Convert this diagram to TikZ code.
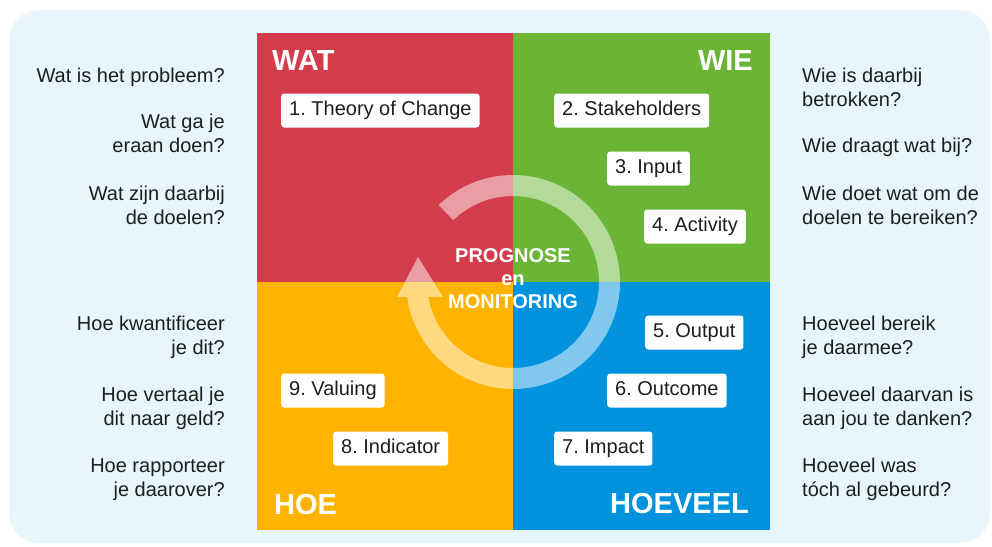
\documentclass[tikz,border=0pt]{standalone}
\usepackage{fontspec}
\setmainfont{Liberation Sans}
\frenchspacing

\definecolor{watred}{RGB}{211,60,74}
\definecolor{wiegreen}{RGB}{106,181,54}
\definecolor{hoeyellow}{RGB}{253,179,0}
\definecolor{hoeveelblue}{RGB}{0,146,221}
\definecolor{panelbg}{RGB}{232,246,252}
\definecolor{qtext}{RGB}{30,30,30}

\begin{document}
\begin{tikzpicture}[x=1pt,y=-1pt,
    corner/.style={font=\fontsize{29}{34}\selectfont\bfseries, text=white, inner sep=0pt},
    stepbox/.style={fill=white, rounded corners=3pt, font=\fontsize{20}{24}\selectfont, text=qtext,
      inner xsep=8pt, minimum height=34pt, text height=14.5pt, text depth=4.2pt, anchor=west},
    question/.style={font=\fontsize{20}{24}\selectfont, text=qtext, inner sep=0pt},
    lq/.style={question, align=right, anchor=base east},
    rq/.style={question, align=left, anchor=base west}]
  \useasboundingbox (0,0) rectangle (992,546);
  \fill[panelbg, rounded corners=30pt] (9,10) rectangle (990,543);

  \fill[watred] (257,33) rectangle (513,282);
  \fill[wiegreen] (513,33) rectangle (770,282);
  \fill[hoeyellow] (257,282) rectangle (513,530);
  \fill[hoeveelblue] (513,282) rectangle (770,530);

  \coordinate (c) at (513,282);
  \fill[white, fill opacity=0.5] ([shift={(226:107)}]c) arc[start angle=226, end angle=532, radius=107]
    -- (397,297) -- (418,257) -- (443,297)
    -- ([shift={(170:86)}]c) arc[start angle=530, end angle=226, radius=86] -- cycle;
  \node[font=\fontsize{20}{23}\selectfont\bfseries, text=white, align=center] (prognose) at (513,279)
    {PROGNOSE\\en\\MONITORING};

  \node[corner, anchor=base west] (wat) at (272,70) {WAT};
  \node[corner, anchor=base east] (wie) at (753,70) {WIE};
  \node[corner, anchor=base west] (hoe) at (274,514) {HOE};
  \node[corner, anchor=base east] (hoeveel) at (749,513) {HOEVEEL};

  \node[stepbox] (toc) at (281,110.5) {1. Theory of Change};
  \node[stepbox] (stakeholders) at (554,110.5) {2. Stakeholders};
  \node[stepbox] (input) at (607,168.5) {3. Input};
  \node[stepbox] (activity) at (644,226.5) {4. Activity};
  \node[stepbox] (output) at (645,332.5) {5. Output};
  \node[stepbox] (outcome) at (607,390.5) {6. Outcome};
  \node[stepbox] (impact) at (554,448.5) {7. Impact};
  \node[stepbox] (indicator) at (333,448.5) {8. Indicator};
  \node[stepbox] (valuing) at (281,390.5) {9. Valuing};

  \node[lq] (probleem) at (225,82) {Wat is het probleem?};
  \node[lq] (doen) at (225,152) {Wat ga je\\eraan doen?};
  \node[lq] (doelen) at (225,224) {Wat zijn daarbij\\de doelen?};
  \node[lq] (kwantificeer) at (225,354) {Hoe kwantificeer\\je dit?};
  \node[lq] (geld) at (225,425) {Hoe vertaal je\\dit naar geld?};
  \node[lq] (rapporteer) at (225,496) {Hoe rapporteer\\je daarover?};

  \node[rq] (betrokken) at (802,106) {Wie is daarbij\\betrokken?};
  \node[rq] (draagt) at (802,152) {Wie draagt wat bij?};
  \node[rq] (bereiken) at (802,224) {Wie doet wat om de\\doelen te bereiken?};
  \node[rq] (bereik) at (802,354) {Hoeveel bereik\\je daarmee?};
  \node[rq] (danken) at (802,425) {Hoeveel daarvan is\\aan jou te danken?};
  \node[rq] (gebeurd) at (802,496) {Hoeveel was\\tóch al gebeurd?};
\end{tikzpicture}
\end{document}
